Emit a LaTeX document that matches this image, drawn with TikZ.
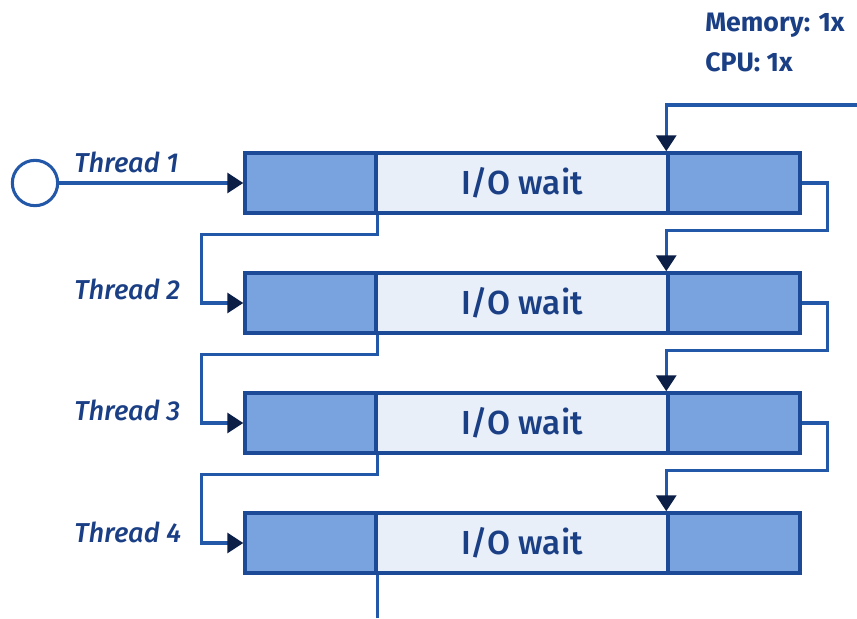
\documentclass[tikz,border=0pt]{standalone}
\usepackage{fontspec}
\setmainfont{Fira Sans}
\newfontfamily\medfont{Fira Sans Medium}
\usetikzlibrary{arrows.meta}
\definecolor{wire}{HTML}{2357A8}
\definecolor{edge}{HTML}{1D4A96}
\definecolor{busy}{HTML}{79A3DF}
\definecolor{idle}{HTML}{E8EFF9}
\definecolor{ink}{HTML}{1B3F85}
\definecolor{tip}{HTML}{0C1F47}
\tikzset{
  seg/.style={draw=edge, line width=2.6pt, inner sep=0pt, minimum height=45pt},
  cpu/.style={seg, fill=busy},
  wait/.style={seg, fill=idle, text=ink, font=\medfont\fontsize{25}{28}\selectfont},
  flow/.style={draw=wire, line width=2.3pt, -{Triangle[length=12pt,width=15pt,color=tip]}},
  plain/.style={draw=wire, line width=2.3pt},
  tlabel/.style={anchor=west, text=ink, font=\medfont\fontsize{20.5}{24}\selectfont\itshape, inner sep=0pt},
  stat/.style={anchor=west, text=ink, font=\fontsize{20}{24}\selectfont\bfseries, inner sep=0pt}
}
\begin{document}
\begin{tikzpicture}[x=0.75pt, y=-0.75pt]
\useasboundingbox (0,0) rectangle (857,618);
% one bar per thread: CPU work, I/O wait, CPU work
\foreach \i in {1,2,3,4} {
  \pgfmathsetmacro{\yy}{183+120*(\i-1)}
  \node[cpu, minimum width=98.25pt] (t\i l) at (310.5,\yy) {};
  \node[wait, minimum width=219pt] (t\i m) at (522,\yy) {I/O wait};
  \node[cpu, minimum width=99pt] (t\i r) at (734,\yy) {};
}
% start marker
\node[draw=wire, line width=2.3pt, circle, minimum size=34pt, inner sep=0pt] (start) at (35,183) {};
\draw[flow] (start) -- (t1l.west);
% hand-off from each I/O wait to the next thread
\foreach \i/\j in {1/2,2/3,3/4} {
  \draw[flow] (t\i l.south east) -- ++(0,20) -| ([xshift=-31.5pt]t\j l.west) -- (t\j l.west);
  \draw[flow] (t\i r.east) -- ++(26,0) |- ([yshift=30.75pt]t\j r.north west) -- (t\j r.north west);
}
\coordinate (feed) at (857,105);
\draw[flow] (feed) -| (t1r.north west);
\coordinate (tail) at (376,618);
\draw[plain] (t4l.south east) -- (t4l.south east |- tail);
% labels
\node[tlabel] (l1) at (74,162) {Thread 1};
\node[tlabel] (l2) at (74,289) {Thread 2};
\node[tlabel] (l3) at (74,410) {Thread 3};
\node[tlabel] (l4) at (74,532) {Thread 4};
\node[stat] (mem) at (705,25) {Memory: 1x};
\node[stat] (cpuu) at (705,62) {CPU: 1x};
\end{tikzpicture}
\end{document}
